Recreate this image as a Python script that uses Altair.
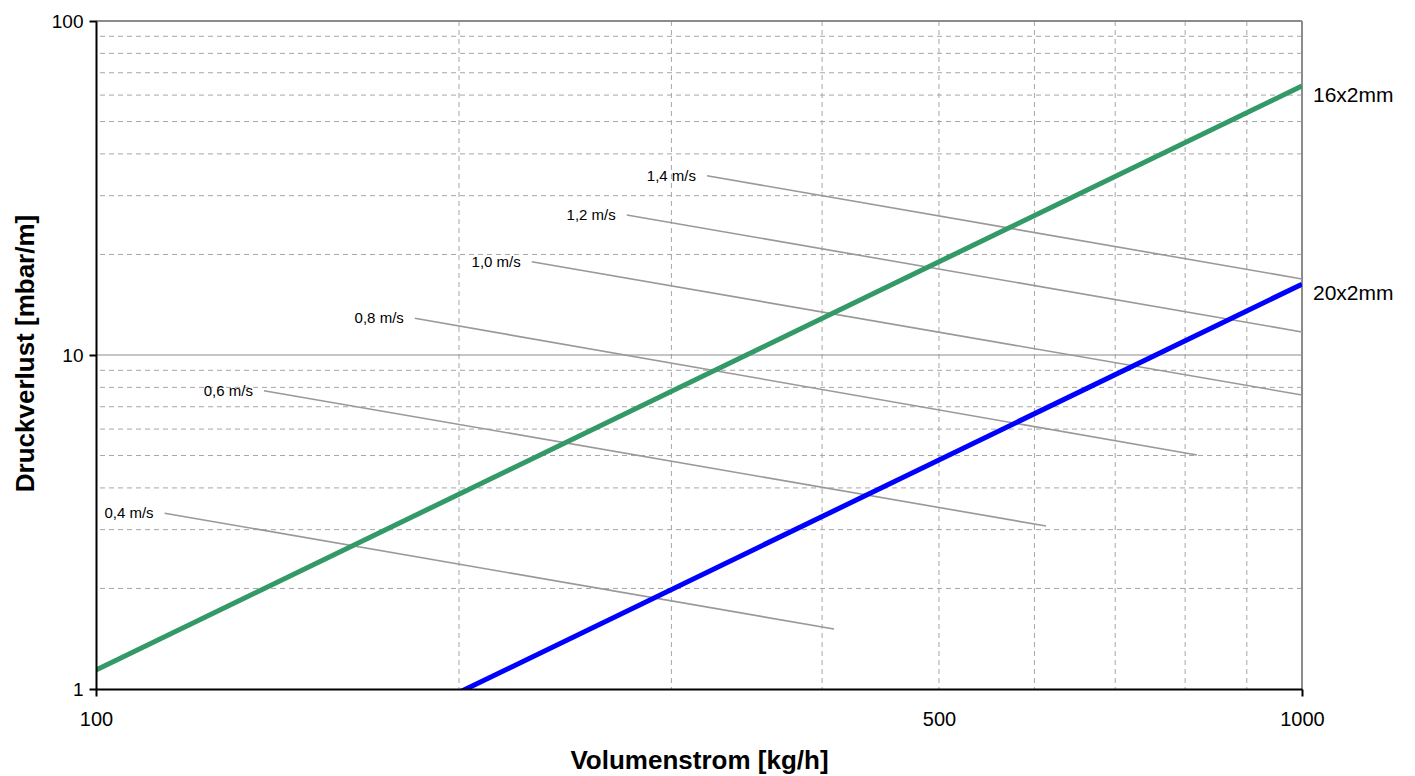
import altair as alt
import pandas as pd

# ---- data ----
pipe_names = ["16x2mm", "20x2mm"]
pipe_x = [[100, 1000], [200, 1000]]
pipe_y = [[1.14, 63.9], [0.977, 16.3]]
pipe_colors = ["#339966", "#0000ff"]

vel_labels = ["0,4 m/s", "0,6 m/s", "0,8 m/s", "1,0 m/s", "1,2 m/s", "1,4 m/s"]
vel_x = [[114.0, 409.2], [137.8, 613.4], [183.8, 818.2],
         [229.8, 1000], [275.5, 1000], [321.1, 1000]]
vel_y = [[3.36, 1.512], [7.82, 3.076], [12.88, 5.02],
         [19.02, 7.59], [26.26, 11.72], [34.42, 16.89]]

x_minor = [200, 300, 400, 500, 600, 700, 800, 900]
y_minor = [2, 3, 4, 5, 6, 7, 8, 9, 20, 30, 40, 50, 60, 70, 80, 90]
y_solid = [10, 100]
x_solid = [1000]

x_ticks = [100, 500, 1000]
y_ticks = [1, 10, 100]

# ---- tables ----
pipes = pd.DataFrame([
    {"name": n, "x": x, "y": y, "order": i}
    for n, xs, ys in zip(pipe_names, pipe_x, pipe_y)
    for i, (x, y) in enumerate(zip(xs, ys))
])
pipe_ends = pd.DataFrame([
    {"name": n, "x": xs[-1], "y": ys[-1]} for n, xs, ys in zip(pipe_names, pipe_x, pipe_y)
])
vels = pd.DataFrame([
    {"name": n, "x": x, "y": y, "order": i}
    for n, xs, ys in zip(vel_labels, vel_x, vel_y)
    for i, (x, y) in enumerate(zip(xs, ys))
])
vel_starts = pd.DataFrame([
    {"name": n, "x": xs[0], "y": ys[0]} for n, xs, ys in zip(vel_labels, vel_x, vel_y)
])

xscale = alt.Scale(type="log", domain=[100, 1000], nice=False)
yscale = alt.Scale(type="log", domain=[1, 100], nice=False)

xaxis = alt.Axis(
    values=x_ticks, format="d", grid=False, labelFlush=False,
    domainColor="black", domainWidth=2,
    tickColor={"condition": {"test": "datum.value == 500", "value": "transparent"}, "value": "black"},
    tickWidth=2, tickSize=7,
    labelFontSize=20, labelPadding=13, labelColor="black",
    title="Volumenstrom [kg/h]", titleFontSize=26, titleFontWeight="bold",
    titleColor="black", titleX=603, titleY=79, titleBaseline="alphabetic",
    zindex=1,
)
yaxis = alt.Axis(
    values=y_ticks, format="d", grid=False, labelFlush=False,
    domainColor="black", domainWidth=2,
    tickColor="black", tickWidth=2, tickSize=7,
    labelFontSize=19, labelPadding=6, labelColor="black",
    title="Druckverlust [mbar/m]", titleFontSize=26, titleFontWeight="bold",
    titleColor="black", titleX=-63, titleY=332, titleAngle=270,
    titleBaseline="alphabetic", zindex=1,
)

X = lambda f="x": alt.X(f"{f}:Q", scale=xscale, axis=xaxis)
Y = lambda f="y": alt.Y(f"{f}:Q", scale=yscale, axis=yaxis)

grid_x = alt.Chart(pd.DataFrame({"x": x_minor})).mark_rule(
    color="#a6a6a6", strokeWidth=1, strokeDash=[5, 4]
).encode(x=X())

grid_y = alt.Chart(pd.DataFrame({"y": y_minor})).mark_rule(
    color="#a6a6a6", strokeWidth=1, strokeDash=[5, 4]
).encode(y=Y())

solid_y = alt.Chart(pd.DataFrame({"y": y_solid, "w": [1.2, 2]})).mark_rule(
    color="#8c8c8c"
).encode(y=Y(), strokeWidth=alt.StrokeWidth("w:Q", scale=None, legend=None))

solid_x = alt.Chart(pd.DataFrame({"x": x_solid})).mark_rule(
    color="#8c8c8c", strokeWidth=2
).encode(x=X())

vel_lines = alt.Chart(vels).mark_line(color="#999999", strokeWidth=1.6, clip=True).encode(
    x=X(), y=Y(), detail="name:N", order="order:Q"
)

vel_text = alt.Chart(vel_starts).mark_text(
    align="right", baseline="middle", dx=-11, fontSize=15, color="black"
).encode(x=X(), y=Y(), text="name:N")

pipe_lines = alt.Chart(pipes).mark_line(strokeWidth=5, clip=True).encode(
    x=X(), y=Y(), detail="name:N", order="order:Q",
    color=alt.Color("name:N", scale=alt.Scale(domain=pipe_names, range=pipe_colors), legend=None),
)

pipe_text = alt.Chart(pipe_ends).mark_text(
    align="left", baseline="middle", dx=11, dy=10, fontSize=21, color="black"
).encode(x=X(), y=Y(), text="name:N")

chart = alt.layer(
    grid_x, grid_y, solid_y, solid_x, vel_lines, pipe_lines, vel_text, pipe_text
).properties(
    width=1206, height=668,
    padding={"left": 96, "top": 21, "right": 113, "bottom": 87},
    autosize=alt.AutoSizeParams(type="none"),
).configure_view(stroke=None).configure(
    font="Liberation Sans", background="white"
)

chart.save("out.html", embed_options={"renderer": "svg", "actions": False})
